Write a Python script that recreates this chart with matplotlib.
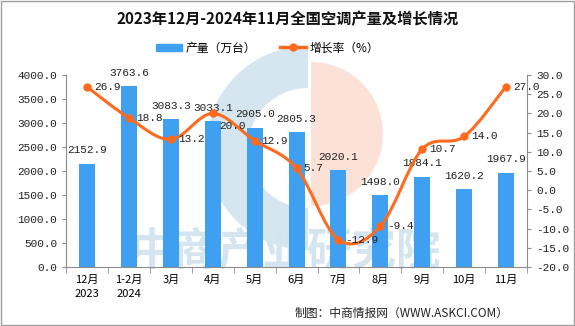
import matplotlib
matplotlib.use("Agg")
import matplotlib.pyplot as plt
from matplotlib.path import Path
from matplotlib.patches import PathPatch, Wedge, Rectangle
import numpy as np

plt.rcParams['font.family'] = ['Noto Sans CJK SC', 'DejaVu Sans']

# data
months = ['12月\n2023', '1-2月\n2024', '3月', '4月', '5月', '6月', '7月', '8月', '9月', '10月', '11月']
output = [2152.9, 3763.6, 3083.3, 3033.1, 2905.0, 2805.3, 2020.1, 1498.0, 1884.1, 1620.2, 1967.9]
growth = [26.9, 18.8, 13.2, 20.0, 12.9, 5.7, -12.9, -9.4, 10.7, 14.0, 27.0]

BLUE = '#3f9ff0'
ORANGE = '#ff6a1f'
AXIS = '#8c8c8c'
NUM_FONT = 'Liberation Mono'

fig = plt.figure(figsize=(5.75, 3.26), dpi=100)
fig.patch.set_facecolor('white')
fig.add_artist(Rectangle((0.001, 0.002), 0.997, 0.995, transform=fig.transFigure,
                         fill=False, edgecolor='#a0a0a0', lw=1))

# watermark logo and text, behind the plot
fig.add_artist(Wedge((3.08, 1.78), 1.02, 90, 270, width=0.42, transform=fig.dpi_scale_trans,
                     facecolor='#d6e6f0', zorder=-2, lw=0))
fig.add_artist(Wedge((3.11, 1.92), 0.72, -90, 90, transform=fig.dpi_scale_trans,
                     facecolor='#fbe1d6', zorder=-2, lw=0))
fig.text(0.496, 0.228, '中商产业研究院', ha='center', va='center', fontsize=32, fontweight='bold',
         color='#d4e5ef', zorder=-1)

ax = fig.add_axes([0.115, 0.181, 0.8015, 0.589])
ax2 = ax.twinx()
ax.patch.set_alpha(0)
ax2.patch.set_alpha(0)

x = np.arange(len(months))
ax.bar(x, output, width=0.38, color=BLUE, zorder=2)
for xi, v in zip(x, output):
    ax.annotate(f'{v:.1f}', (xi, v), xytext=(0, 6), textcoords='offset points',
                ha='center', va='bottom', fontsize=8, family=NUM_FONT, color='#222222')

ax.set_xlim(-0.5, len(months) - 0.5)
ax.set_ylim(0, 4000)
ax.set_yticks(np.arange(0, 4001, 500))
ax.set_yticklabels([f'{v:.1f}' for v in np.arange(0, 4001, 500)], family=NUM_FONT, fontsize=8)
ax.set_xticks(x)
ax.set_xticklabels(months, fontsize=8, linespacing=1.5)
ax.set_xticks(np.arange(-0.5, len(months)), minor=True)
ax.tick_params(axis='x', which='major', length=0, pad=6)
ax.tick_params(axis='x', which='minor', length=4, color=AXIS)
ax.tick_params(axis='y', length=3, color=AXIS, labelcolor='#222222')

# smooth line through the growth points (Catmull-Rom as cubic bezier)
pts = np.column_stack([x, growth]).astype(float)
verts = [tuple(pts[0])]
codes = [Path.MOVETO]
for i in range(len(pts) - 1):
    p0 = pts[i - 1] if i > 0 else pts[i]
    p1, p2 = pts[i], pts[i + 1]
    p3 = pts[i + 2] if i + 2 < len(pts) else pts[i + 1]
    c1 = p1 + (p2 - p0) / 6
    c2 = p2 - (p3 - p1) / 6
    verts += [tuple(c1), tuple(c2), tuple(p2)]
    codes += [Path.CURVE4] * 3
ax2.add_patch(PathPatch(Path(verts, codes), fill=False, edgecolor=ORANGE, lw=2.2, zorder=3))
ax2.plot(x, growth, 'o', color=ORANGE, ms=5, zorder=4)
for i, (xi, v) in enumerate(zip(x, growth)):
    dy = -9 if i == 3 else 0
    ax2.annotate(f'{v:.1f}', (xi, v), xytext=(5, dy), textcoords='offset points',
                 ha='left', va='center', fontsize=8, family=NUM_FONT, color='#222222', zorder=5)

ax2.set_ylim(-20, 30)
ax2.set_yticks(np.arange(-20, 31, 5))
ax2.set_yticklabels([f'{v:.1f}' for v in np.arange(-20, 31, 5)], family=NUM_FONT, fontsize=8)
ax2.tick_params(axis='y', length=3, color=AXIS, labelcolor='#222222')

for a in (ax, ax2):
    a.spines['top'].set_visible(False)
    for s in ('left', 'right', 'bottom'):
        a.spines[s].set_color(AXIS)
ax.spines['right'].set_visible(False)
ax2.spines['left'].set_visible(False)
ax2.spines['bottom'].set_visible(False)

# title, legend, footer
fig.text(0.5, 0.94, '2023年12月-2024年11月全国空调产量及增长情况', ha='center', va='center',
         fontsize=11, fontweight='bold', color='#111111')
leg_handles = [Rectangle((0, 0), 1, 1, color=BLUE),
               plt.Line2D([], [], color=ORANGE, lw=2.5, marker='o', ms=5)]
fig.legend(leg_handles, ['产量（万台）', '增长率（%）'], loc='center', bbox_to_anchor=(0.465, 0.853),
           ncol=2, frameon=False, fontsize=8.5, handlelength=2.2, handleheight=0.6,
           columnspacing=2.0, handletextpad=0.3)
fig.text(0.885, 0.04, '制图：中商情报网（WWW.ASKCI.COM）', ha='right', va='center', fontsize=8.5,
         color='#222222')

fig.savefig('out.png', dpi=100)
